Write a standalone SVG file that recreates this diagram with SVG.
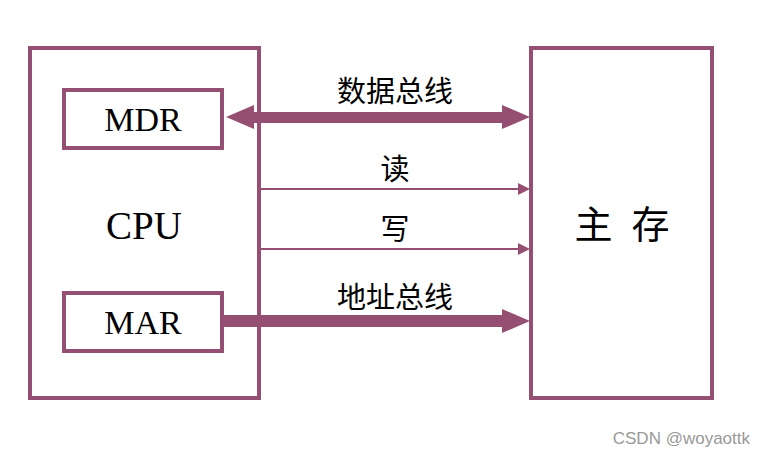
<svg xmlns="http://www.w3.org/2000/svg" width="762" height="458" viewBox="0 0 762 458">
<style>
.box{fill:none;stroke:#954F72;stroke-width:4}
.t{font-family:"Liberation Serif","Noto Sans CJK SC",serif;fill:#000;text-anchor:middle}
.arr{fill:#954F72}
</style>
<rect width="762" height="458" fill="#fff"/>
<g id="cpu"><rect class="box" x="30" y="48" width="229" height="350"/><text class="t" x="144" y="239" font-size="39">CPU</text></g>
<g id="mdr"><rect class="box" x="64" y="90" width="158" height="58"/><text class="t" x="143" y="131" font-size="34">MDR</text></g>
<g id="mar"><rect class="box" x="64" y="293" width="158" height="58"/><text class="t" x="143" y="334" font-size="34">MAR</text></g>
<g id="mem"><rect class="box" x="531" y="48" width="181" height="350"/><text class="t" x="622" y="238" font-size="38" xml:space="preserve">主  存</text></g>
<g id="connectors">
<rect class="arr" x="250" y="112" width="256" height="11"/>
<polygon class="arr" points="226,117 254,105 254,129"/>
<polygon class="arr" points="530,117 502,105 502,129"/>
<line x1="260" y1="189" x2="526" y2="189" stroke="#954F72" stroke-width="2"/>
<polygon class="arr" points="530,189 518,183 518,195"/>
<line x1="260" y1="249" x2="526" y2="249" stroke="#954F72" stroke-width="2"/>
<polygon class="arr" points="530,249 518,243 518,255"/>
<rect class="arr" x="222" y="315" width="284" height="12"/>
<polygon class="arr" points="530,321 502,309 502,333"/>
<text class="t" x="395" y="102" font-size="29">数据总线</text>
<text class="t" x="395" y="180" font-size="29">读</text>
<text class="t" x="395" y="240" font-size="29">写</text>
<text class="t" x="395" y="308" font-size="29">地址总线</text>
</g>
<text x="750" y="444" font-family="Liberation Sans,sans-serif" font-size="17" fill="#999" text-anchor="end">CSDN @woyaottk</text>
</svg>
